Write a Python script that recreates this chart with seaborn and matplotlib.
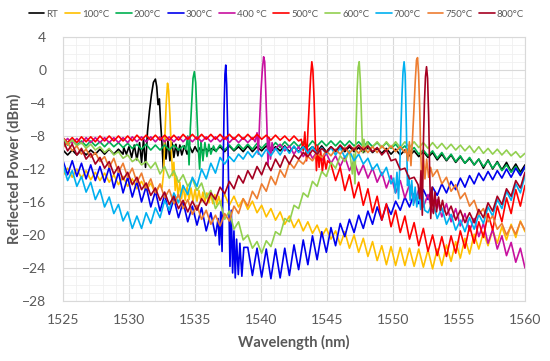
# FBG reflection spectra at different annealing temperatures
import numpy as np
import pandas as pd
import seaborn as sns
import matplotlib.pyplot as plt
from matplotlib.ticker import MultipleLocator

# sampling grid of the traces (nm), 0.35 nm step
wavelength = np.round(np.arange(1525, 1560.001, 0.35), 2)

labels = ["RT", "100°C", "200°C", "300°C", "400 °C", "500°C", "600°C", "700°C", "750°C", "800°C"]
colors = ["#000000", "#FFC000", "#00B050", "#0000EE", "#C8109F", "#FF0000",
          "#92D050", "#00B0F0", "#ED7D31", "#A50021"]

# reflected power (dBm) on the grid
rt = [-9.7, -10.3, -9.7, -10.3, -9.7, -10.3, -9.7, -10.2, -9.6, -10.2,
      -9.6, -10.2, -9.6, -10.2, -9.5, -10.1, -9.5, -10.1, -9.4, -10.0,
      -9.4, -10.0, -9.4, -10.0, -9.3, -9.9, -9.3, -9.9, -9.3, -9.9,
      -9.3, -9.9, -9.2, -9.8, -9.3, -9.9, -9.2, -9.8, -9.3, -9.9,
      -9.2, -9.9, -9.3, -9.8, -9.2, -9.9, -9.3, -9.8, -9.2, -9.9,
      -9.3, -9.9, -9.2, -9.8, -9.3, -9.9, -9.2, -9.9, -9.3, -9.9,
      -9.3, -9.9, -9.3, -9.9, -9.4, -10.0, -9.4, -10.0, -9.5, -10.1,
      -9.5, -10.2, -9.6, -10.3, -9.7, -10.4, -9.8, -10.5, -9.9, -10.6,
      -10.0, -10.9, -10.2, -11.0, -10.3, -11.2, -10.5, -11.3, -10.7, -11.5,
      -10.8, -11.9, -10.9, -12.0, -11.1, -12.1, -11.2, -12.3, -11.4, -12.4,
      -11.5]
t100 = [-12.8, -11.9, -13.0, -12.0, -13.1, -12.2, -13.3, -12.4, -13.4, -12.5,
        -13.6, -12.7, -13.9, -12.9, -14.1, -13.2, -14.4, -13.5, -14.6, -13.7,
        -15.0, -13.9, -15.1, -14.0, -15.2, -14.1, -15.4, -14.2, -15.5, -14.3,
        -15.6, -14.5, -15.9, -14.8, -16.1, -15.1, -16.4, -15.3, -16.6, -15.6,
        -16.9, -15.9, -17.3, -16.4, -17.8, -16.8, -18.2, -17.2, -18.7, -17.7,
        -19.1, -18.1, -19.5, -18.4, -19.8, -18.8, -20.2, -19.2, -20.5, -19.5,
        -21.2, -19.6, -21.6, -20.0, -22.1, -20.4, -22.6, -20.8, -23.1, -21.3,
        -23.6, -21.4, -23.7, -21.5, -23.7, -21.6, -23.8, -21.7, -23.9, -21.8,
        -24.1, -21.7, -23.7, -21.2, -23.2, -20.8, -22.8, -20.4, -22.3, -19.9,
        -21.7, -19.7, -21.3, -19.4, -21.0, -19.0, -20.6, -18.7, -20.3, -18.3,
        -19.6]
t200 = [-8.5, -9.1, -8.5, -9.1, -8.6, -9.2, -8.6, -9.2, -8.7, -9.3,
        -8.7, -9.3, -8.8, -9.4, -8.9, -9.5, -9.0, -9.6, -9.0, -9.7,
        -9.1, -9.7, -9.1, -9.7, -9.1, -9.7, -9.2, -9.8, -9.2, -9.8,
        -9.2, -9.8, -9.2, -9.8, -9.1, -9.7, -9.1, -9.7, -9.0, -9.6,
        -9.0, -9.6, -8.9, -9.5, -8.9, -9.5, -8.8, -9.4, -8.7, -9.3,
        -8.7, -9.3, -8.7, -9.3, -8.6, -9.2, -8.6, -9.2, -8.6, -9.2,
        -8.6, -9.2, -8.6, -9.2, -8.7, -9.3, -8.7, -9.3, -8.8, -9.4,
        -8.8, -9.5, -9.0, -9.7, -9.2, -10.0, -9.4, -10.2, -9.7, -10.4,
        -9.8, -10.7, -10.0, -10.9, -10.2, -11.1, -10.4, -11.3, -10.6, -11.5,
        -10.8, -11.7, -11.0, -11.9, -11.2, -12.2, -11.5, -12.4, -11.7, -12.6,
        -11.9]
t300 = [-11.0, -12.7, -11.0, -12.9, -11.3, -13.2, -11.5, -13.4, -11.7, -13.6,
        -11.8, -14.3, -12.4, -14.9, -13.0, -15.4, -13.5, -16.0, -14.1, -16.6,
        -14.7, -17.1, -15.1, -17.5, -15.6, -17.9, -16.0, -18.4, -16.5, -18.8,
        -16.7, -19.5, -17.3, -20.1, -17.8, -20.0, -20.0, -23.0, -22.0, -24.8,
        -21.5, -24.9, -21.6, -25.1, -21.7, -25.3, -21.7, -25.2, -21.6, -24.9,
        -21.2, -24.2, -20.6, -23.6, -20.1, -23.0, -19.6, -22.1, -19.1, -21.3,
        -18.6, -20.2, -18.1, -19.7, -17.6, -19.2, -17.1, -18.7, -16.6, -18.2,
        -16.3, -17.5, -15.9, -17.0, -15.4, -16.6, -15.0, -16.2, -14.5, -15.7,
        -14.2, -15.2, -13.8, -14.9, -13.5, -14.5, -13.1, -14.2, -12.8, -13.8,
        -12.5, -13.4, -12.3, -13.3, -12.2, -13.1, -12.0, -13.0, -11.9, -12.8,
        -11.7]
t400 = [-8.9, -8.3, -8.9, -8.3, -8.9, -8.2, -8.8, -8.2, -8.8, -8.2,
        -8.8, -8.2, -8.8, -8.2, -8.8, -8.1, -8.7, -8.1, -8.7, -8.1,
        -8.7, -8.1, -8.7, -8.1, -8.7, -8.1, -8.7, -8.1, -8.7, -8.1,
        -8.7, -8.1, -8.7, -8.1, -8.7, -8.1, -8.8, -8.2, -8.8, -8.2,
        -8.8, -8.2, -8.9, -8.3, -9.2, -8.7, -9.5, -9.0, -9.8, -9.2,
        -10.2, -9.3, -10.5, -9.6, -10.7, -9.9, -11.0, -10.1, -11.3, -10.4,
        -11.7, -10.5, -12.2, -11.0, -12.7, -11.5, -13.1, -11.9, -13.6, -12.4,
        -14.3, -12.8, -14.9, -13.4, -15.5, -13.9, -16.1, -14.5, -16.6, -15.1,
        -17.2, -15.7, -17.8, -16.2, -18.4, -16.8, -18.9, -17.4, -19.5, -18.0,
        -20.2, -18.6, -21.0, -19.3, -21.7, -20.1, -22.5, -20.9, -23.3, -21.6,
        -24.0]
t500 = [-8.2, -8.8, -8.2, -8.8, -8.1, -8.7, -8.1, -8.7, -8.0, -8.6,
        -8.0, -8.6, -8.0, -8.6, -8.0, -8.6, -7.9, -8.5, -7.9, -8.5,
        -7.9, -8.5, -7.9, -8.5, -7.9, -8.5, -7.8, -8.4, -7.8, -8.4,
        -7.8, -8.4, -7.8, -8.4, -7.8, -8.4, -7.8, -8.4, -7.8, -8.4,
        -7.8, -8.4, -7.8, -8.4, -7.9, -8.5, -7.9, -8.5, -8.0, -8.6,
        -8.0, -8.6, -8.1, -8.8, -9.0, -10.5, -10.5, -12.0, -11.4, -13.4,
        -11.8, -14.6, -12.7, -15.5, -13.6, -16.4, -14.4, -17.3, -15.3, -18.2,
        -16.2, -19.0, -17.0, -19.7, -17.7, -20.5, -18.5, -21.3, -19.2, -22.0,
        -20.0, -22.5, -20.2, -22.6, -20.1, -22.2, -19.5, -21.6, -18.9, -21.0,
        -18.4, -20.3, -17.4, -19.4, -16.5, -18.4, -15.5, -17.4, -14.5, -16.5,
        -14.0]
t600 = [-8.3, -9.0, -8.5, -9.2, -8.8, -9.5, -9.0, -9.7, -9.3, -10.0,
        -9.5, -10.3, -9.9, -10.7, -10.3, -11.1, -10.7, -11.5, -11.1, -11.9,
        -11.2, -12.6, -11.7, -13.1, -12.2, -13.6, -12.7, -14.1, -13.2, -14.6,
        -13.7, -15.5, -14.6, -16.8, -15.9, -18.1, -17.1, -19.3, -18.4, -20.6,
        -20.0, -21.6, -20.8, -22.2, -20.7, -21.4, -19.6, -20.0, -18.0, -18.4,
        -16.4, -16.8, -14.9, -15.4, -13.5, -14.1, -12.3, -12.9, -11.2, -11.9,
        -10.4, -11.1, -9.8, -10.0, -9.0, -9.6, -8.8, -9.3, -8.7, -9.4,
        -8.7, -9.4, -8.7, -9.4, -8.7, -9.4, -8.7, -9.4, -8.8, -9.5,
        -8.8, -9.5, -8.9, -9.6, -9.0, -9.7, -9.1, -9.8, -9.2, -10.0,
        -9.3, -10.1, -9.5, -10.2, -9.6, -10.3, -9.7, -10.4, -9.9, -10.6,
        -10.1]
t700 = [-11.5, -13.4, -12.2, -14.1, -12.9, -14.8, -13.6, -15.7, -14.5, -16.6,
        -15.4, -17.4, -16.3, -18.3, -17.2, -19.2, -17.7, -19.2, -17.3, -18.6,
        -16.7, -17.9, -15.8, -17.0, -14.9, -16.1, -14.0, -15.1, -13.0, -14.1,
        -12.0, -13.2, -11.3, -12.5, -10.6, -11.4, -10.5, -11.1, -10.2, -10.8,
        -9.9, -10.6, -9.8, -10.5, -9.6, -10.4, -9.5, -10.3, -9.3, -10.1,
        -9.2, -10.0, -9.3, -10.1, -9.3, -10.2, -9.4, -10.2, -9.4, -10.3,
        -9.4, -10.6, -9.8, -11.0, -10.2, -11.4, -10.7, -12.1, -11.4, -12.8,
        -11.8, -13.8, -13.0, -14.0, -13.0, -14.5, -14.0, -15.5, -15.0, -17.3,
        -16.0, -18.0, -16.7, -18.7, -17.5, -19.4, -18.2, -19.6, -17.9, -19.3,
        -17.5, -18.6, -16.6, -17.7, -15.7, -16.8, -14.7, -15.8, -13.8, -14.9,
        -12.8]
t750 = [-9.4, -8.8, -9.8, -9.2, -10.2, -9.6, -10.6, -10.0, -11.1, -10.5,
        -11.8, -10.7, -12.4, -11.3, -13.0, -11.9, -13.6, -12.5, -14.3, -13.2,
        -14.9, -13.8, -15.5, -14.5, -16.2, -15.1, -16.8, -15.7, -17.5, -16.4,
        -18.1, -17.0, -18.7, -17.6, -18.9, -17.4, -18.3, -16.5, -17.4, -15.6,
        -16.5, -14.7, -15.6, -13.8, -14.7, -12.9, -13.9, -12.1, -13.0, -11.2,
        -11.9, -10.9, -11.4, -10.5, -11.0, -10.1, -10.6, -9.8, -10.4, -9.6,
        -10.2, -9.4, -10.1, -9.4, -10.1, -9.3, -10.0, -9.3, -10.0, -9.2,
        -9.8, -9.2, -9.9, -9.3, -10.0, -9.5, -10.0, -9.5, -11.0, -12.0,
        -12.9, -12.1, -13.8, -13.0, -14.7, -13.9, -15.6, -14.9, -16.5, -15.8,
        -17.5, -16.8, -18.4, -17.7, -19.3, -18.6, -20.0, -18.9, -19.9, -18.4,
        -19.4]
t800 = [-8.5, -9.8, -9.0, -10.3, -9.5, -10.8, -10.1, -11.4, -10.6, -11.9,
        -11.1, -12.6, -11.7, -13.3, -12.4, -13.9, -13.0, -14.5, -13.7, -15.2,
        -14.3, -15.8, -14.8, -16.3, -15.3, -16.8, -15.8, -17.2, -15.9, -17.0,
        -15.6, -16.4, -14.9, -15.7, -14.2, -15.0, -13.5, -14.4, -12.8, -13.7,
        -12.2, -13.2, -11.7, -12.7, -11.2, -12.2, -10.8, -11.8, -10.4, -11.4,
        -10.3, -10.8, -10.0, -10.5, -9.7, -10.2, -9.5, -10.0, -9.3, -9.8,
        -9.1, -9.7, -9.1, -9.7, -9.1, -9.7, -9.2, -9.9, -9.4, -10.3,
        -9.7, -11.0, -10.8, -12.1, -11.9, -13.2, -13.0, -14.0, -14.0, -15.0,
        -15.3, -17.0, -15.9, -17.6, -16.5, -18.2, -17.0, -18.5, -17.3, -18.5,
        -16.9, -17.9, -16.1, -17.1, -15.3, -16.3, -14.4, -15.3, -13.4, -14.3,
        -12.4]

# Bragg peaks and the noisy part around them (nm, dBm)
rt_peak = [(1529.6, -9.4), (1529.8, -10.2), (1530.0, -9.3), (1530.2, -10.6), (1530.4, -9.1),
           (1530.6, -10.9), (1530.8, -8.8), (1530.95, -11.2), (1531.1, -8.4), (1531.25, -11.8),
           (1531.4, -7.5), (1531.55, -5.0), (1531.7, -3.0), (1531.85, -1.5), (1532.0, -1.1),
           (1532.1, -2.0), (1532.2, -4.2), (1532.3, -3.5), (1532.4, -6.5), (1532.5, -9.0),
           (1532.6, -12.0), (1532.7, -8.2), (1532.8, -10.8), (1532.95, -8.6), (1533.1, -11.0),
           (1533.25, -8.8), (1533.4, -10.6), (1533.55, -9.0), (1533.7, -10.4), (1533.85, -9.1),
           (1534.0, -10.3), (1534.2, -9.2), (1534.4, -10.2), (1534.6, -9.3), (1534.8, -10.0),
           (1535.0, -9.3), (1535.2, -9.9), (1535.4, -9.4), (1535.6, -9.8), (1535.8, -9.5),
           (1536.0, -9.8), (1536.3, -9.5)]
t100_peak = [(1532.5, -14.3), (1532.62, -12.5), (1532.72, -8.0), (1532.82, -4.0), (1532.92, -1.6),
             (1533.0, -2.5), (1533.1, -5.5), (1533.2, -9.5), (1533.3, -12.8), (1533.4, -11.2),
             (1533.5, -14.6), (1533.6, -12.9), (1533.72, -15.4), (1533.85, -13.6), (1533.98, -15.6),
             (1534.1, -14.0), (1534.25, -15.8), (1534.4, -14.2), (1534.55, -15.7), (1534.7, -14.3),
             (1534.85, -15.9), (1535.0, -14.5), (1535.15, -15.9), (1535.3, -14.6), (1535.45, -16.0),
             (1535.6, -14.8), (1535.75, -16.0), (1535.9, -14.9), (1536.05, -16.1), (1536.2, -15.0),
             (1536.35, -16.2), (1536.5, -15.1), (1536.65, -16.3), (1536.8, -15.3), (1536.95, -16.4),
             (1537.1, -15.4)]
t200_peak = [(1534.3, -9.6), (1534.45, -8.0), (1534.55, -11.5), (1534.65, -7.0), (1534.75, -4.0),
             (1534.85, -1.0), (1534.95, -0.2), (1535.05, -1.5), (1535.15, -5.5), (1535.25, -9.5),
             (1535.35, -12.0), (1535.45, -8.6), (1535.6, -11.0), (1535.75, -8.8), (1535.9, -10.5),
             (1536.05, -9.0), (1536.2, -10.2), (1536.4, -9.2), (1536.6, -9.9), (1536.8, -9.3)]
t300_peak = [(1536.75, -18.0), (1536.85, -21.2), (1536.95, -17.2), (1537.05, -22.0), (1537.12, -13.5),
             (1537.2, -5.0), (1537.27, -0.5), (1537.33, 0.6), (1537.4, -1.8), (1537.48, -7.5),
             (1537.56, -15.5), (1537.65, -23.8), (1537.75, -17.0), (1537.85, -24.6), (1537.95, -19.5),
             (1538.05, -25.2), (1538.15, -20.5), (1538.28, -24.8), (1538.4, -21.0), (1538.55, -25.0),
             (1538.7, -21.5)]
t400_peak = [(1539.55, -8.7), (1539.7, -7.6), (1539.8, -10.2), (1539.9, -6.0), (1540.0, -2.5),
             (1540.1, 0.0), (1540.2, 1.6), (1540.28, 1.0), (1540.36, -2.5), (1540.45, -7.0),
             (1540.53, -11.5), (1540.62, -8.2), (1540.72, -10.8), (1540.84, -8.8), (1540.96, -9.9)]
t500_peak = [(1543.05, -8.4), (1543.2, -9.8), (1543.32, -7.5), (1543.45, -11.0), (1543.56, -7.2),
             (1543.66, -4.0), (1543.76, -0.8), (1543.85, 1.0), (1543.93, 0.0), (1544.02, -3.5),
             (1544.1, -8.0), (1544.2, -12.2), (1544.3, -9.2), (1544.4, -11.8), (1544.52, -9.8),
             (1544.65, -12.3), (1544.78, -10.5), (1544.92, -12.0), (1545.05, -11.0)]
t600_peak = [(1546.8, -10.9), (1546.92, -12.6), (1547.02, -10.2), (1547.12, -13.8), (1547.2, -7.0),
             (1547.28, -2.5), (1547.36, 0.3), (1547.44, 1.0), (1547.52, -1.2), (1547.6, -5.0),
             (1547.7, -10.0), (1547.8, -8.4), (1547.92, -9.9), (1548.05, -8.7), (1548.2, -9.5)]
t700_peak = [(1550.05, -13.1), (1550.18, -14.9), (1550.3, -12.4), (1550.42, -15.6), (1550.52, -11.5),
             (1550.6, -7.0), (1550.68, -3.0), (1550.76, -0.2), (1550.84, 1.0), (1550.92, -0.5),
             (1551.0, -6.0), (1551.1, -14.0), (1551.2, -12.8), (1551.3, -15.8), (1551.42, -13.4),
             (1551.55, -16.4), (1551.68, -14.2), (1551.8, -16.6), (1551.95, -14.6), (1552.1, -16.9),
             (1552.25, -15.0), (1552.4, -17.0)]
t750_peak = [(1551.0, -9.6), (1551.12, -11.0), (1551.24, -8.7), (1551.36, -11.6), (1551.48, -8.2),
             (1551.58, -5.0), (1551.68, -1.5), (1551.78, 1.2), (1551.86, 1.5), (1551.94, -0.5),
             (1552.02, -4.5), (1552.1, -10.0), (1552.2, -14.0), (1552.3, -10.2), (1552.42, -13.2),
             (1552.55, -10.8), (1552.7, -13.0), (1552.85, -11.8), (1552.97, -12.6)]
t800_peak = [(1551.9, -13.9), (1552.02, -15.6), (1552.12, -12.2), (1552.22, -17.6), (1552.3, -9.0),
             (1552.38, -4.0), (1552.46, -0.8), (1552.54, 0.4), (1552.62, -1.0), (1552.7, -5.5),
             (1552.78, -12.5), (1552.86, -18.0), (1552.96, -14.2), (1553.06, -17.4), (1553.18, -14.8),
             (1553.3, -17.2), (1553.45, -15.4), (1553.6, -17.0), (1553.75, -15.8), (1553.88, -16.8)]

series = [rt, t100, t200, t300, t400, t500, t600, t700, t750, t800]
peaks = [rt_peak, t100_peak, t200_peak, t300_peak, t400_peak,
         t500_peak, t600_peak, t700_peak, t750_peak, t800_peak]

frames = []
for name, base, peak in zip(labels, series, peaks):
    pw = np.array([p[0] for p in peak])
    pdb = np.array([p[1] for p in peak])
    keep = (wavelength < pw.min() - 0.02) | (wavelength > pw.max() + 0.02)
    wl = np.concatenate([wavelength[keep], pw])
    db = np.concatenate([np.array(base)[keep], pdb])
    frames.append(pd.DataFrame({"Wavelength": wl, "Power": db, "Series": name}))
df = pd.concat(frames, ignore_index=True)

sns.set_style("white")
plt.rcParams["font.family"] = ["Lato", "DejaVu Sans"]

fig, ax = plt.subplots(figsize=(5.5, 3.61), dpi=100)
fig.subplots_adjust(left=63/550, right=525/550, top=1-37/361, bottom=1-301/361)

sns.lineplot(data=df, x="Wavelength", y="Power", hue="Series", hue_order=labels,
             palette=colors, estimator=None, sort=True, linewidth=1.2, ax=ax)

ax.set_xlim(1525, 1560)
ax.set_ylim(-28, 4)
ax.xaxis.set_major_locator(MultipleLocator(5))
ax.xaxis.set_minor_locator(MultipleLocator(1))
ax.yaxis.set_major_locator(MultipleLocator(4))
ax.yaxis.set_minor_locator(MultipleLocator(1))
ax.grid(which="major", color="#D9D9D9", lw=0.8)
ax.grid(which="minor", color="#F0F0F0", lw=0.6)
ax.set_axisbelow(True)
for s in ax.spines.values():
    s.set_color("#D9D9D9")
    s.set_linewidth(0.8)
ax.tick_params(which="both", length=0, labelsize=10, labelcolor="#595959")
ax.tick_params(axis="x", pad=9)
ax.tick_params(axis="y", pad=12)

ax.set_xlabel("Wavelength (nm)", fontsize=10.5, fontweight="bold", color="#595959")
ax.set_ylabel("Reflected Power (dBm)", fontsize=10.5, fontweight="bold", color="#595959")
ax.xaxis.set_label_coords(0.5, -0.13)
ax.yaxis.set_label_coords(-0.09, 0.5)

sns.move_legend(ax, "center", bbox_to_anchor=(0.462, 1.087), ncol=10, frameon=False,
                title=None, fontsize=7, handlelength=1.6, handletextpad=0.2,
                columnspacing=0.7, labelcolor="#595959")

plt.savefig("out.png", dpi=100)
